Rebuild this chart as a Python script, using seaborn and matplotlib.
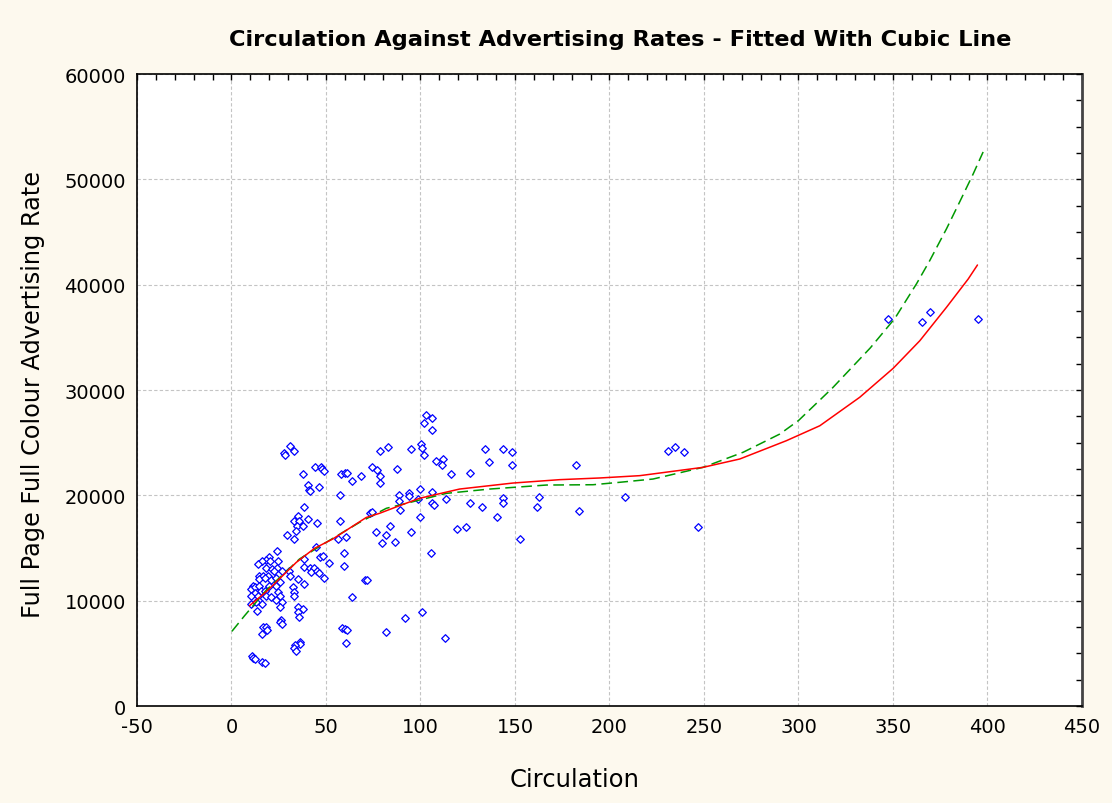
import matplotlib
matplotlib.use('Agg')
import matplotlib.pyplot as plt
import seaborn as sns
import pandas as pd
from matplotlib.ticker import MultipleLocator, FixedLocator

# ---------------- data ----------------
circulation = [
    30.7, 27.7, 28.1, 33.0, 37.6, 44.3, 47.1, 47.8, 48.9, 40.4,
    46.1, 40.9, 41.8, 38.6, 35.3, 33.0, 35.6, 40.6, 34.8, 37.7,
    45.4, 33.9, 29.5, 33.0, 58.2, 59.8, 61.0, 63.9, 57.3, 57.5,
    56.5, 60.7, 24.2, 44.5, 38.3, 46.6, 48.3, 51.5, 59.5, 59.7,
    19.7, 18.0, 16.3, 13.9, 20.5, 24.5, 18.4, 21.3, 24.2, 22.4,
    26.6, 30.2, 30.9, 38.6, 41.8, 43.9, 42.2, 45.0, 46.2, 48.9,
    35.1, 38.3, 32.5, 33.0, 33.0, 14.5, 16.9, 19.2, 14.8, 17.5,
    21.0, 23.7, 25.9, 23.3, 20.1, 11.3, 10.4, 12.7, 14.8, 15.7,
    17.5, 12.2, 10.4, 13.9, 18.4, 21.0, 24.5, 25.4, 23.3, 14.8,
    16.3, 10.4, 13.1, 26.8, 13.4, 25.8, 35.1, 37.7, 35.1, 35.6,
    63.9, 26.3, 25.8, 26.8, 16.6, 18.4, 18.7, 16.3, 58.4, 59.8,
    61.3, 60.7, 36.5, 36.0, 33.4, 33.0, 33.9, 11.0, 11.3, 12.5,
    16.3, 17.5, 102.7, 106.0, 101.6, 106.0, 82.7, 78.4, 94.8, 100.4,
    101.0, 101.6, 108.4, 111.9, 111.5, 133.9, 136.2, 74.3, 77.1, 87.5,
    68.7, 78.4, 78.4, 116.3, 126.0, 99.7, 106.3, 88.4, 93.9, 93.9,
    88.4, 98.6, 113.7, 106.3, 107.1, 126.0, 89.3, 132.7, 73.1, 74.3,
    99.7, 84.0, 119.3, 124.0, 76.2, 81.9, 94.8, 86.3, 79.6, 105.4,
    70.7, 71.9, 100.6, 91.7, 81.9, 112.8, 143.6, 148.2, 148.4, 182.5,
    143.6, 143.6, 162.5, 161.5, 140.4, 183.7, 152.6, 208.0, 231.0, 234.7,
    239.3, 246.7, 347.4, 365.1, 369.7, 394.9,
]
ad_rate = [
    24710, 23990, 23800, 24240, 22000, 22660, 22720, 22500, 22280, 20980,
    20820, 20540, 20380, 18890, 18070, 17590, 17590, 17750, 17120, 17090,
    17350, 16640, 16240, 15860, 22000, 22120, 22120, 21330, 20030, 17590,
    15860, 16020, 14740, 15070, 13930, 14180, 14270, 13550, 14530, 13320,
    14120, 13890, 13740, 13480, 13800, 13740, 13100, 13010, 13100, 12790,
    12850, 12850, 12370, 13170, 13070, 13100, 12750, 12850, 12600, 12120,
    12060, 11580, 11330, 10850, 10470, 12370, 12370, 12370, 12060, 12120,
    11960, 12120, 11740, 11420, 11420, 11420, 11110, 11270, 11420, 10950,
    10950, 10700, 10470, 10470, 10470, 10320, 10800, 10420, 10090, 10000,
    9680, 9680, 9850, 9900, 9050, 9370, 9370, 9210, 8900, 8420,
    10380, 8170, 7950, 7790, 7470, 7530, 7240, 6840, 7400, 7310,
    7220, 5950, 6050, 5890, 5790, 5510, 5250, 4780, 4560, 4460,
    4150, 4110, 27630, 27310, 26870, 26200, 24620, 24240, 24430, 24870,
    24470, 23860, 23260, 23450, 22880, 24430, 23140, 22660, 22430, 22470,
    21810, 21810, 21170, 22000, 22120, 20600, 20350, 20060, 20190, 19970,
    19430, 19650, 19650, 19240, 19050, 19240, 18640, 18920, 18320, 18450,
    17920, 17120, 16800, 16970, 16490, 16240, 16490, 15540, 15450, 14530,
    11990, 11990, 8950, 8360, 7030, 6430, 24400, 24090, 22910, 22910,
    19720, 19240, 19870, 18920, 17940, 18490, 15830, 19870, 24240, 24620,
    24090, 16970, 36710, 36490, 37430, 36710,
]

# smooth fitted line (red, solid)
smooth_fit_x = [9.5, 18.4, 34.3, 43.9, 53.6, 71.3, 78.4, 88.9, 99.5, 120.7,
                148.9, 173.6, 194.8, 216.0, 249.5, 268.9, 293.6, 311.3, 332.4,
                350.1, 364.2, 378.3, 389.8, 394.7]
smooth_fit_y = [9520, 10850, 13640, 14970, 15860, 17900, 18300, 19020, 19720, 20600,
                21170, 21490, 21650, 21870, 22660, 23450, 25190, 26610, 29310,
                32060, 34680, 37850, 40540, 41870]

# cubic fitted line (green, dashed)
cubic_fit_x = [0.2, 6.9, 18.4, 36.0, 50.1, 67.8, 81.9, 113.7, 136.6, 166.6,
               191.3, 205.4, 223.0, 249.5, 270.7, 290.1, 300.0, 318.0, 338.0,
               351.0, 362.5, 369.5, 378.3, 385.4, 392.4, 397.7]
cubic_fit_y = [7090, 8570, 11000, 13960, 15540, 17440, 18770, 20190, 20600, 20980,
               21010, 21240, 21550, 22660, 24090, 25820, 27100, 30200, 34000,
               36800, 40100, 42300, 45300, 47900, 50500, 52600]

title_text = "Circulation Against Advertising Rates - Fitted With Cubic Line"
x_label = "Circulation"
y_label = "Full Page Full Colour Advertising Rate"
x_ticks = [-50, 0, 50, 100, 150, 200, 250, 300, 350, 400, 450]
y_ticks = [0, 10000, 20000, 30000, 40000, 50000, 60000]

# ---------------- style ----------------
sns.set_style('white')
plt.rcParams['font.family'] = ['DejaVu Sans']
plt.rcParams['axes.unicode_minus'] = False
plt.rcParams['text.color'] = 'black'
plt.rcParams['axes.labelcolor'] = 'black'

fig = plt.figure(figsize=(11.12, 8.04), dpi=100, facecolor='#FDF9EE')
ax = fig.add_axes([0.1232, 0.1206, 0.8498, 0.7861])
ax.set_facecolor('white')

df = pd.DataFrame({'Circulation': circulation, 'Rate': ad_rate})
sns.scatterplot(data=df, x='Circulation', y='Rate', ax=ax, marker='D', s=15,
                linewidth=0.9, zorder=3, legend=False)
pts = ax.collections[-1]
pts.set_facecolor('white')
pts.set_edgecolor('#0000FF')

cubic_df = pd.DataFrame({'x': cubic_fit_x, 'y': cubic_fit_y})
sns.lineplot(data=cubic_df, x='x', y='y', ax=ax, color='#009900', linewidth=1.1,
             linestyle=(0, (7, 3.5)), sort=False, estimator=None, zorder=4)
smooth_df = pd.DataFrame({'x': smooth_fit_x, 'y': smooth_fit_y})
sns.lineplot(data=smooth_df, x='x', y='y', ax=ax, color='#FF0000', linewidth=1.1,
             sort=False, estimator=None, zorder=5)

ax.set_xlim(x_ticks[0], x_ticks[-1])
ax.set_ylim(y_ticks[0], y_ticks[-1])
ax.xaxis.set_major_locator(FixedLocator(x_ticks))
ax.yaxis.set_major_locator(FixedLocator(y_ticks))
ax.xaxis.set_minor_locator(MultipleLocator(10))
ax.yaxis.set_minor_locator(MultipleLocator(2500))
ax.set_xticklabels([str(v) for v in x_ticks])
ax.set_yticklabels([str(v) for v in y_ticks])

ax.grid(True, which='major', color='#C4C4C4', linestyle=(0, (3, 2)), linewidth=0.8)
ax.set_axisbelow(True)

ax.tick_params(which='both', direction='in', top=True, right=True,
               length=4, width=1, color='black')
ax.tick_params(which='major', labelsize=14, pad=8, labelcolor='black')

for side in ['left', 'bottom', 'top']:
    ax.spines[side].set_color('black')
    ax.spines[side].set_linewidth(1.2)
ax.spines['right'].set_color('#444444')
ax.spines['right'].set_linewidth(2)

ax.set_xlabel(x_label, fontsize=17.5, color='black')
ax.set_ylabel(y_label, fontsize=17.3, color='black')
ax.xaxis.set_label_coords(0.463, -0.097)
ax.yaxis.set_label_coords(-0.097, 0.494)

fig.text(0.5576, 0.950, title_text, ha='center', va='center',
         fontsize=16.2, fontweight='bold', color='black')

fig.savefig('out.png', dpi=100, facecolor=fig.get_facecolor())
